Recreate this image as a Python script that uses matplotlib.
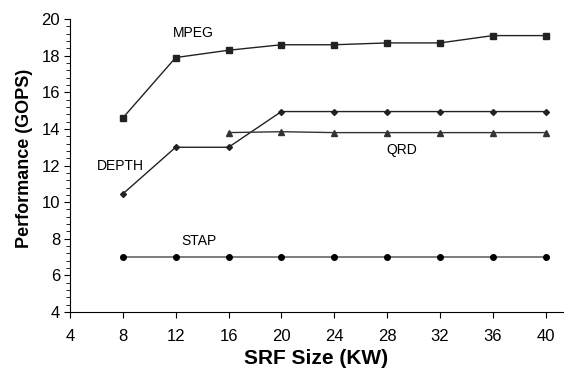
import matplotlib
matplotlib.use('Agg')
import matplotlib.pyplot as plt
from matplotlib.ticker import MultipleLocator

plt.rcParams['font.family'] = ['Liberation Sans', 'DejaVu Sans']

srf = [8, 12, 16, 20, 24, 28, 32, 36, 40]
mpeg = [14.6, 17.9, 18.3, 18.6, 18.6, 18.7, 18.7, 19.1, 19.1]
depth = [10.45, 13.0, 13.0, 14.95, 14.95, 14.95, 14.95, 14.95, 14.95]
qrd_x = [16, 20, 24, 28, 32, 36, 40]
qrd = [13.8, 13.85, 13.8, 13.8, 13.8, 13.8, 13.8]
stap = [7.0, 7.0, 7.0, 7.0, 7.0, 7.0, 7.0, 7.0, 7.0]

fig = plt.figure(figsize=(5.64, 3.75), dpi=100)
ax = fig.add_axes([0.124, 0.168, 0.874, 0.781])

ax.plot(srf, mpeg, color='#222222', lw=1, marker='s', ms=4)
ax.plot(srf, depth, color='#222222', lw=1, marker='D', ms=3)
ax.plot(qrd_x, qrd, color='#333333', lw=1, marker='^', ms=4)
ax.plot(srf, stap, color='#666666', lw=1.2, marker='o', ms=4, mfc='black', mec='black')

ax.text(13.3, 19.25, 'MPEG', fontsize=10, ha='center', va='center')
ax.text(7.8, 11.95, 'DEPTH', fontsize=10, ha='center', va='center')
ax.text(29.1, 12.85, 'QRD', fontsize=10, ha='center', va='center')
ax.text(13.8, 7.9, 'STAP', fontsize=10, ha='center', va='center')

ax.set_xlim(4, 41.3)
ax.set_ylim(4, 20)
ax.set_xticks(range(4, 41, 4))
ax.set_yticks(range(4, 21, 2))
ax.yaxis.set_minor_locator(MultipleLocator(0.4))
ax.spines['top'].set_visible(False)
ax.spines['right'].set_visible(False)
ax.tick_params(axis='both', labelsize=12, direction='out', length=4)
ax.tick_params(axis='x', pad=8)
ax.tick_params(axis='y', pad=3)
ax.tick_params(axis='y', which='minor', length=3)

ax.set_xlabel('SRF Size (KW)', fontsize=15, fontweight='bold', labelpad=4)
ax.set_ylabel('Performance (GOPS)', fontsize=13, fontweight='bold')
ax.yaxis.set_label_coords(-0.075, 0.525)

fig.savefig('out.png', dpi=100)
